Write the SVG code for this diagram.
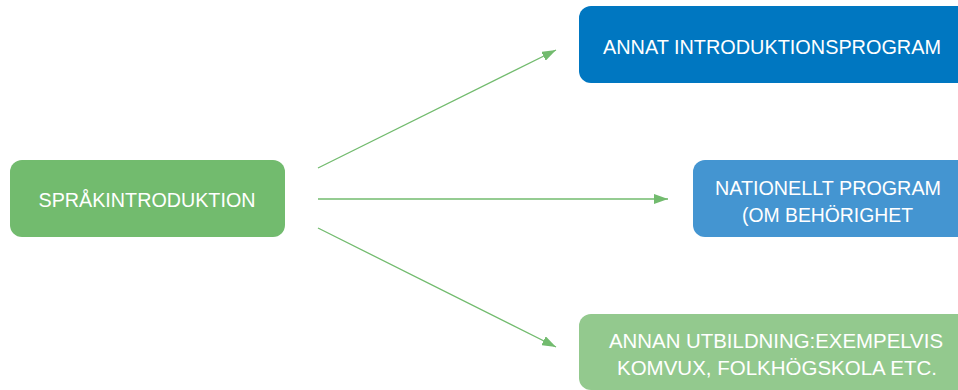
<svg xmlns="http://www.w3.org/2000/svg" width="958" height="390" viewBox="0 0 958 390">
<style>
.lbl{font-family:"Liberation Sans",Arial,sans-serif;font-size:21px;fill:#ffffff;text-anchor:middle}
.con{stroke:#72BB6E;stroke-width:1.3;fill:none}
</style>
<defs>
<marker id="ah" markerWidth="14" markerHeight="10" refX="14" refY="5" orient="auto" markerUnits="userSpaceOnUse">
<path d="M0,0 L14,5 L0,10 Z" fill="#72BB6E"/>
</marker>
</defs>
<rect width="958" height="390" fill="#ffffff"/>
<g id="connectors">
<line class="con" x1="318" y1="168" x2="556" y2="50" marker-end="url(#ah)"/>
<line class="con" x1="318" y1="199" x2="668" y2="199" marker-end="url(#ah)"/>
<line class="con" x1="318" y1="228" x2="556" y2="347" marker-end="url(#ah)"/>
</g>
<g id="sprakintroduktion">
<rect x="10" y="160" width="275" height="77" rx="12" fill="#72BB6E"/>
<text class="lbl" x="147" y="207" textLength="217" lengthAdjust="spacingAndGlyphs">SPRÅKINTRODUKTION</text>
</g>
<g id="annat-introduktionsprogram">
<rect x="579" y="6" width="390" height="77" rx="12" fill="#0077C1"/>
<text class="lbl" x="772" y="54" textLength="338" lengthAdjust="spacingAndGlyphs">ANNAT INTRODUKTIONSPROGRAM</text>
</g>
<g id="nationellt-program">
<rect x="693" y="160" width="280" height="77" rx="12" fill="#4495D1"/>
<text class="lbl" x="828" y="195" textLength="226" lengthAdjust="spacingAndGlyphs">NATIONELLT PROGRAM</text>
<text class="lbl" x="827.5" y="222" textLength="171" lengthAdjust="spacingAndGlyphs">(OM BEHÖRIGHET</text>
</g>
<g id="annan-utbildning">
<rect x="579" y="314" width="390" height="76" rx="12" fill="#93C98E"/>
<text class="lbl" x="776" y="348" textLength="334" lengthAdjust="spacingAndGlyphs">ANNAN UTBILDNING:EXEMPELVIS</text>
<text class="lbl" x="777" y="375" textLength="320" lengthAdjust="spacingAndGlyphs">KOMVUX, FOLKHÖGSKOLA ETC.</text>
</g>
</svg>
